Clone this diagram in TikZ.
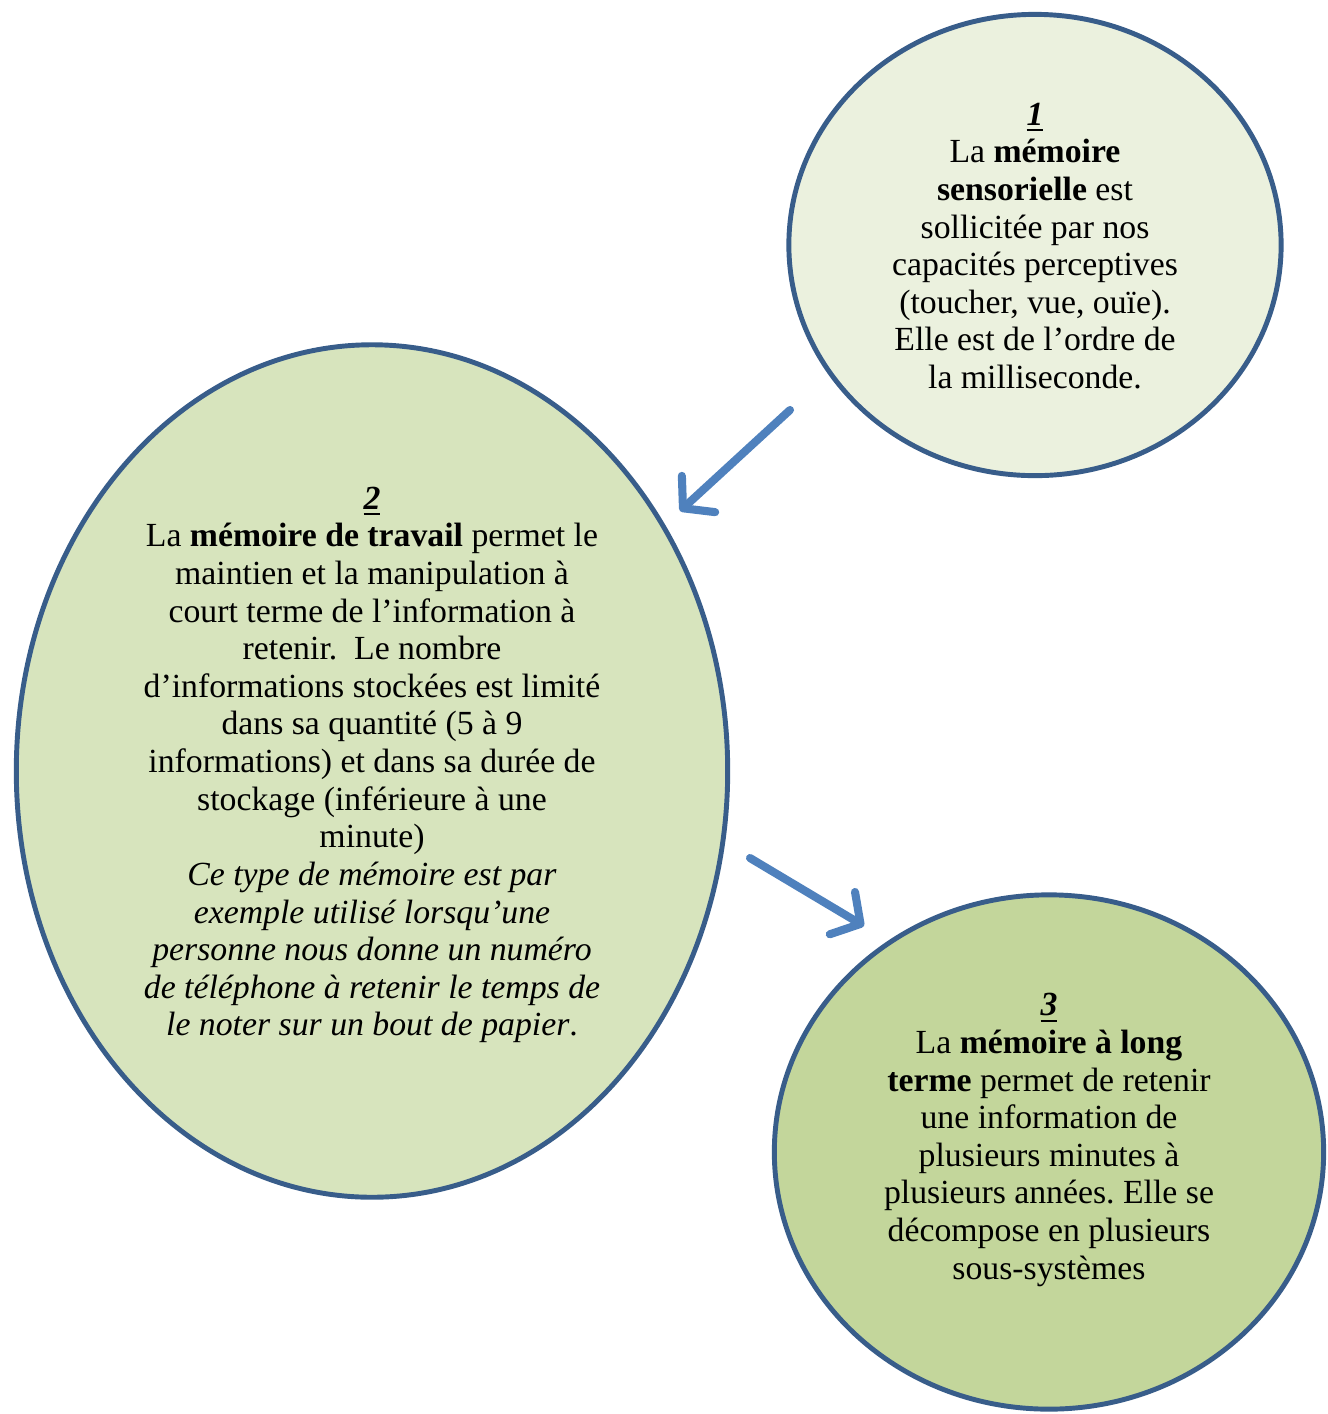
\documentclass[tikz,border=0pt]{standalone}
\usepackage{fontspec}
\setmainfont{Liberation Serif}
\usepackage{xcolor}
\usepackage{tikz}
\usetikzlibrary{arrows.meta,shapes.geometric}
\definecolor{bordbleu}{RGB}{56, 93, 138}
\definecolor{flbleu}{RGB}{79, 129, 189}
\definecolor{vpale}{RGB}{235, 241, 222}
\definecolor{vmoyen}{RGB}{215, 228, 189}
\definecolor{vfonce}{RGB}{195, 214, 155}
\newcommand{\numero}[1]{\underline{\textbf{\textit{#1}}}}
\frenchspacing

\begin{document}
\begin{tikzpicture}[x = 0.01cm, y = -0.01cm,
		bulle/.style = {ellipse, draw = bordbleu, line width = 1.4pt, inner sep = 0pt},
		texte/.style = {align = center, inner sep = 0pt, font = \fontsize{9.6}{10.7}\selectfont},
		fleche/.style = {draw = flbleu, line width = 2.3pt, line cap = round, -{Straight Barb[round, length = 6pt, width = 14pt]}}]
		\useasboundingbox (0,0) rectangle (1328,1414);
		\node (m1) at (1035,245) [bulle, fill = vpale, minimum width = 4.92cm, minimum height = 4.61cm] {};
		\node (m2) at (372,771) [bulle, fill = vmoyen, minimum width = 7.11cm, minimum height = 8.52cm] {};
		\node (m3) at (1049,1152) [bulle, fill = vfonce, minimum width = 5.49cm, minimum height = 5.14cm] {};
		\node (t1) at (1035,246) [texte] {\numero{1}\\ La \textbf{mémoire}\\ \textbf{sensorielle} est\\ sollicitée par nos\\ capacités perceptives\\ (toucher, vue, ouïe).\\ Elle est de l’ordre de\\ la milliseconde.};
		\node (t2) at (372,765) [texte] {\numero{2}\\ La \textbf{mémoire de travail} permet le\\ maintien et la manipulation à\\ court terme de l’information à\\ retenir.~ Le nombre\\ d’informations stockées est limité\\ dans sa quantité (5 à 9\\ informations) et dans sa durée de\\ stockage (inférieure à une\\ minute)\\ \textit{Ce type de mémoire est par}\\ \textit{exemple utilisé lorsqu’une}\\ \textit{personne nous donne un numéro}\\ \textit{de téléphone à retenir le temps de}\\ \textit{le noter sur un bout de papier}.};
		\node (t3) at (1049,1140) [texte] {\numero{3}\\ La \textbf{mémoire à long}\\ \textbf{terme} permet de retenir\\ une information de\\ plusieurs minutes à\\ plusieurs années. Elle se\\ décompose en plusieurs\\ sous-systèmes};
		\coordinate (d1) at (790,410);
		\coordinate (a1) at (680,511);
		\coordinate (d2) at (750,858);
		\coordinate (a2) at (864,926);
		\draw[fleche] (d1) -- (a1);
		\draw[fleche] (d2) -- (a2);
\end{tikzpicture}
\end{document}
